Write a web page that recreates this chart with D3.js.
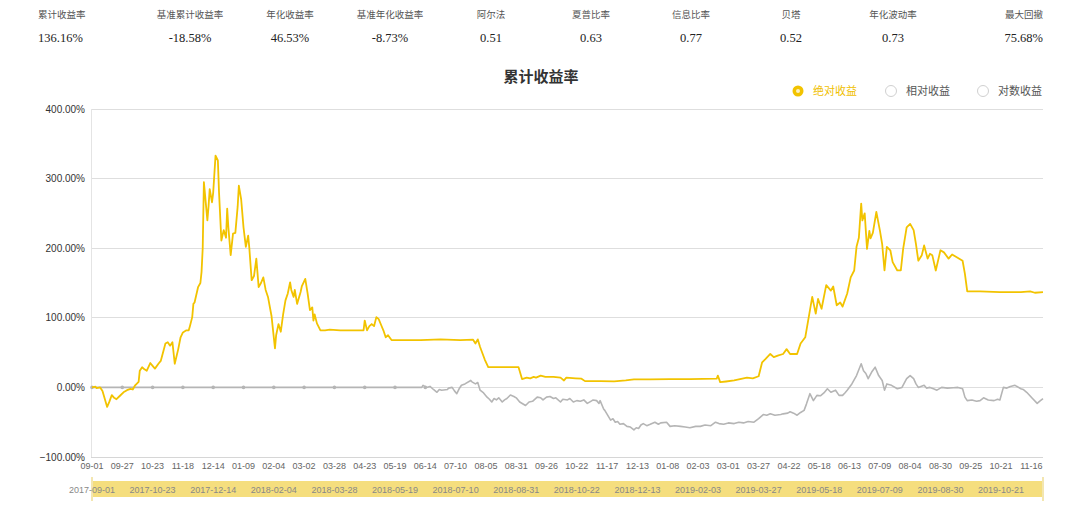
<!DOCTYPE html>
<html><head><meta charset="utf-8">
<script src="https://cdn.jsdelivr.net/npm/d3@7/dist/d3.min.js"></script>
<style>
html,body{margin:0;padding:0;background:#fff;}
svg{display:block;}
</style></head>
<body>
<svg id="chart" width="1080" height="525"></svg>
<script>
// ---------- DATA ----------
const statLabels = ["累计收益率","基准累计收益率","年化收益率","基准年化收益率","阿尔法","夏普比率","信息比率","贝塔","年化波动率","最大回撤"];
const statValues = ["136.16%","-18.58%","46.53%","-8.73%","0.51","0.63","0.77","0.52","0.73","75.68%"];
const chartTitle = "累计收益率";
const legendItems = ["绝对收益","相对收益","对数收益"];
const startDate = "2017-09-01";
const endDate = "2019-11-26";
const yTicks = [-100, 0, 100, 200, 300, 400];
const xTickDates = ["2017-09-01","2017-09-27","2017-10-23","2017-11-18","2017-12-14","2018-01-09","2018-02-04","2018-03-02","2018-03-28","2018-04-23","2018-05-19","2018-06-14","2018-07-10","2018-08-05","2018-08-31","2018-09-26","2018-10-22","2018-11-17","2018-12-13","2019-01-08","2019-02-03","2019-03-01","2019-03-27","2019-04-22","2019-05-18","2019-06-13","2019-07-09","2019-08-04","2019-08-30","2019-09-25","2019-10-21","2019-11-16"];
const sliderLabels = ["2017-09-01","2017-10-23","2017-12-14","2018-02-04","2018-03-28","2018-05-19","2018-07-10","2018-08-31","2018-10-22","2018-12-13","2019-02-03","2019-03-27","2019-05-18","2019-07-09","2019-08-30","2019-10-21"];

// absolute return (days since start, %)
const absDays = [0,3,4,7,9,13,15,17,19,21,24,27,30,33,35,37,40,41,43,45,47,50,52,54,57,59,63,65,67,69,71,74,76,78,81,83,84,86,87,88,91,93,94,95,96,99,100,101,103,104,106,108,109,111,113,115,116,117,119,121,123,125,126,128,130,132,134,135,137,139,141,143,145,147,149,151,154,157,158,160,162,164,166,168,170,171,173,174,176,179,180,183,185,187,189,190,191,193,196,200,204,213,222,233,234,236,238,240,242,244,246,248,250,252,254,257,264,282,299,316,327,329,331,333,337,340,350,366,369,373,376,379,381,385,389,396,402,405,407,415,420,423,436,448,458,465,479,496,513,536,537,539,544,551,556,562,567,572,575,578,582,585,589,593,596,599,605,608,612,615,618,621,623,626,630,634,636,639,642,644,648,651,654,656,658,660,661,663,665,667,668,670,673,676,678,680,682,685,687,691,694,696,699,702,705,707,709,712,714,717,719,721,724,728,731,735,738,742,747,749,751,762,779,797,805,809,816];
const absVals = [0,1,-1,0,-5,-28,-20,-11,-15,-17,-12,-7,-4,-2,-3,3,8,24,29,26,24,35,31,27,34,38,63,65,60,65,34,55,72,79,82,82,88,101,120,122,144,150,166,200,295,240,260,285,266,280,333,326,280,211,226,215,257,230,190,221,222,260,290,270,230,202,218,200,154,160,185,144,150,158,140,130,103,56,75,91,80,105,125,135,151,140,130,140,120,137,145,156,135,111,115,96,105,92,82,82,83,82,82,82,96,82,88,91,88,101,98,90,82,72,75,68,68,68,69,68,68.5,63,69,58,40,29,29,29,12,14,13,15,14,17,15,15,14,10,14,13,12.5,9,9,8.6,10,11.5,11.5,12,12,12.5,17,7.6,8.5,10,12,14,13,16,36,41,48,43.5,46,48,55,48,48,63,72,101,130,106,127,113,147,139,145,118,122,116,135,158,168,202,215,264,240,250,199,225,214,222,252,226,206,168,202,197,180,168,168,199,230,235,226,206,182,190,204,185,192,190,168,197,194,185,191,187,182,163,138,138,137,137,138,136,137];

// relative return (days since start, %)
const relDays = [0,283,284,287,290,293,296,298,300,305,306,309,311,313,315,317,320,325,326,329,331,333,336,339,341,343,345,347,349,352,354,356,359,362,364,367,372,375,378,382,385,387,390,393,396,398,402,404,408,410,413,416,419,422,425,428,430,433,435,436,439,440,445,447,449,451,453,456,459,462,465,467,469,471,473,476,479,483,486,488,493,496,500,505,509,513,518,522,526,531,535,538,542,546,551,555,559,563,568,572,576,579,582,586,591,593,597,599,602,605,608,611,613,616,619,622,625,628,631,634,638,641,644,646,648,652,656,660,662,664,666,669,672,675,678,680,682,686,691,695,699,702,705,707,709,714,716,719,722,725,729,734,739,743,747,749,751,755,759,762,765,769,774,777,779,782,785,788,792,797,799,802,807,811,813,816];
const relVals = [0,0,3,0,1.4,-3,-7,-3,-4,-3,-1,0,-5,-9,-2,3,5,10,8,5,7,-4,-8,-14,-17,-21,-16,-18,-15,-21,-18,-16,-11,-13,-15,-21,-26,-21,-20,-14,-15,-18,-14,-13,-16,-15,-21,-17,-18,-16,-21,-19,-20,-18,-23,-20,-18,-19,-23,-19,-31,-33,-47,-45,-50,-49,-53,-52,-56,-57,-61,-58,-59,-54,-52,-55,-53,-50,-53,-51,-50,-56,-55,-56,-57,-58,-56,-56,-54,-55,-50,-52,-53,-51,-52,-50,-51,-49,-50,-45,-39,-40,-38,-40,-39,-38,-37,-35,-37,-40,-36,-33,-24,-9,-19,-11.5,-12,-8,-2,-7,-4,-11.5,-11.5,-8,-4,5,17,34,24,20,12.5,22,29,17,10,-4,5,3,-2,0,12.5,17,12.5,5,0,3,-1,0,-2,-4,0,-1,-0.5,0,-2,-14,-19,-18,-20,-19,-15,-18,-19,-17,-18,0,-1,1.4,3,-2,-3,-7,-16,-23,-20,-16];

// ---------- DRAW ----------
const svg = d3.select("#chart");
const parse = d3.timeParse("%Y-%m-%d");
const t0 = parse(startDate);
const dayToDate = d => d3.timeDay.offset(t0, d);

const x = d3.scaleTime().domain([t0, parse(endDate)]).range([92, 1043]);
const y = d3.scaleLinear().domain([-100, 400]).range([457, 109]);

const sans = "'Helvetica Neue', Helvetica, 'Liberation Sans', Arial, 'Noto Sans CJK SC', sans-serif";
const cjk = "'Noto Sans CJK SC', 'Helvetica Neue', 'Liberation Sans', sans-serif";

// stats row
const statX = [38,190,290,390,491,591,691,791,893,1043];
statLabels.forEach((lab, i) => {
  const anchor = i === 0 ? "start" : (i === statLabels.length - 1 ? "end" : "middle");
  svg.append("text").attr("x", statX[i]).attr("y", 18)
    .attr("text-anchor", anchor).attr("font-family", cjk).attr("font-size", 9.5)
    .attr("fill", "#555").text(lab);
  svg.append("text").attr("x", statX[i] + (i === statLabels.length - 1 ? 0 : 0)).attr("y", 42)
    .attr("text-anchor", anchor).attr("font-family", "'Liberation Serif','Times New Roman',serif").attr("font-size", 12.5)
    .attr("fill", "#222").text(statValues[i]);
});

// title
svg.append("text").attr("x", 541).attr("y", 82).attr("text-anchor", "middle")
  .attr("font-family", cjk).attr("font-size", 15).attr("font-weight", "bold")
  .attr("fill", "#333").text(chartTitle);

// legend (radio style)
const legX = [798, 891, 983];
legendItems.forEach((lab, i) => {
  const g = svg.append("g").attr("transform", `translate(${legX[i]},91)`);
  if (i === 0) {
    g.append("circle").attr("r", 5.5).attr("fill", "#f2c300");
    g.append("circle").attr("r", 2).attr("fill", "#fff").attr("opacity", 0.75);
  } else {
    g.append("circle").attr("r", 5.5).attr("fill", "#fff").attr("stroke", "#d0d0d0").attr("stroke-width", 1);
  }
  g.append("text").attr("x", 15).attr("y", 4).attr("font-family", cjk).attr("font-size", 11)
    .attr("fill", i === 0 ? "#f0c000" : "#555").text(lab);
});

// grid + y labels
const gGrid = svg.append("g");
yTicks.forEach(v => {
  gGrid.append("line").attr("x1", 91).attr("x2", 1043).attr("y1", y(v)).attr("y2", y(v))
    .attr("stroke", v === -100 ? "#d6d6d6" : "#dedede").attr("stroke-width", 1).attr("shape-rendering", "crispEdges");
  gGrid.append("text").attr("x", 85).attr("y", y(v) + 3.5).attr("text-anchor", "end")
    .attr("font-family", sans).attr("font-size", 10).attr("fill", "#333")
    .text(d3.format(".2f")(v) + "%");
});
gGrid.append("line").attr("x1", 91).attr("x2", 91).attr("y1", y(400)).attr("y2", y(-100))
  .attr("stroke", "#e4e4e4").attr("shape-rendering", "crispEdges");

// x axis labels
const fmtMD = d3.timeFormat("%m-%d");
xTickDates.forEach(s => {
  const d = parse(s);
  svg.append("text").attr("x", x(d)).attr("y", 469).attr("text-anchor", "middle")
    .attr("font-family", sans).attr("font-size", 9).attr("fill", "#666").text(fmtMD(d));
});

// relative line
const relData = relDays.map((d, i) => ({ date: dayToDate(d), v: relVals[i] }));
const absData = absDays.map((d, i) => ({ date: dayToDate(d), v: absVals[i] }));
const line = d3.line().x(d => x(d.date)).y(d => y(d.v)).curve(d3.curveLinear);

svg.append("path").datum(relData).attr("d", line).attr("fill", "none")
  .attr("stroke", "#b5b5b5").attr("stroke-width", 1.6).attr("stroke-linejoin", "round");
// symbols on flat part of relative line at label positions
const flatEnd = relDays[1];
xTickDates.map(parse).filter(d => d3.timeDay.count(t0, d) <= flatEnd + 3).forEach(d => {
  svg.append("circle").attr("cx", x(d)).attr("cy", y(0)).attr("r", 1.8).attr("fill", "#b5b5b5");
});

svg.append("path").datum(absData).attr("d", line).attr("fill", "none")
  .attr("stroke", "#f2c300").attr("stroke-width", 1.8).attr("stroke-linejoin", "round");

// slider
const sx0 = x(t0), sx1 = x(parse(endDate));
svg.append("rect").attr("x", sx0).attr("y", 481).attr("width", sx1 - sx0).attr("height", 16)
  .attr("fill", "#f5de7e");
svg.append("line").attr("x1", sx0).attr("x2", sx0).attr("y1", 477).attr("y2", 501).attr("stroke", "#f3e6b0").attr("stroke-width", 2);
svg.append("line").attr("x1", sx1).attr("x2", sx1).attr("y1", 477).attr("y2", 501).attr("stroke", "#f3e6b0").attr("stroke-width", 2);
sliderLabels.forEach(s => {
  svg.append("text").attr("x", x(parse(s))).attr("y", 492.5).attr("text-anchor", "middle")
    .attr("font-family", sans).attr("font-size", 9).attr("fill", "#888").text(s);
});
</script>
</body></html>
